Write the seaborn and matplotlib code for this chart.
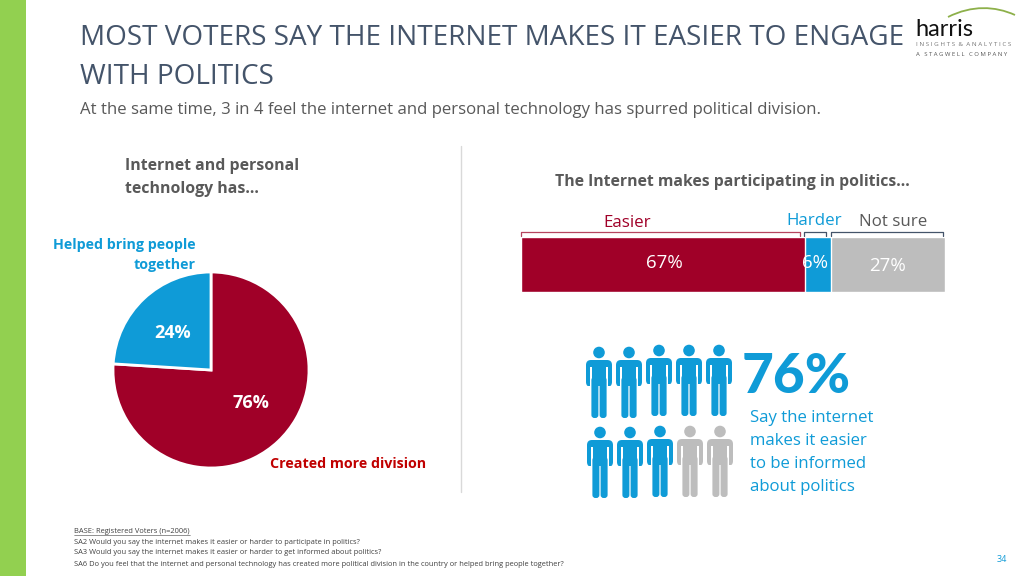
import matplotlib
matplotlib.use('Agg')
import matplotlib.pyplot as plt
from matplotlib.patches import Rectangle, Circle, FancyBboxPatch, PathPatch
from matplotlib.path import Path
import numpy as np
import pandas as pd
import seaborn as sns

# data
pie_labels = ['Created more division', 'Helped bring people together']
pie_values = [76, 24]
bar_labels = ['Easier', 'Harder', 'Not sure']
bar_values = [67, 6, 27]
people_blue = 8
people_total = 10

RED = '#A00028'
BLUE = '#0F9BD7'
GREY = '#BDBDBD'
TEXT = '#595959'
TITLE = '#44546A'
bar_colors = [RED, BLUE, GREY]

sns.set_theme(style='white')
plt.rcParams['font.family'] = ['Open Sans', 'DejaVu Sans']

fig = plt.figure(figsize=(10.24, 5.76), dpi=100)
W, H = 1024, 576


def box(x0, y0, x1, y1):
    # pixel box (y from the top) to figure fraction
    return [x0 / W, 1 - y1 / H, (x1 - x0) / W, (y1 - y0) / H]


# page layer in pixel coords
bg = fig.add_axes([0, 0, 1, 1], zorder=0)
bg.set_xlim(0, W)
bg.set_ylim(H, 0)
bg.axis('off')

bg.add_patch(Rectangle((0, 0), 26, H, color='#92D050', lw=0))
bg.plot([461, 461], [146, 492], color='#D9D9D9', lw=1)

# title
bg.text(80, 38, 'MOST VOTERS SAY THE INTERNET MAKES IT EASIER TO ENGAGE', fontsize=20.05,
        color=TITLE, va='center', ha='left')
bg.text(80, 77, 'WITH POLITICS', fontsize=20.05, color=TITLE, va='center', ha='left')
bg.text(80, 110, 'At the same time, 3 in 4 feel the internet and personal technology has spurred political division.',
        fontsize=12.1, color=TEXT, va='center', ha='left')

# logo
arc = Path([(948, 17), (972, 5), (995, 6), (1015, 15)], [Path.MOVETO, Path.CURVE4, Path.CURVE4, Path.CURVE4])
bg.add_patch(PathPatch(arc, fc='none', ec='#8DB04A', lw=1.3))
bg.text(915, 29, 'harris', fontsize=17, color='#111111', va='center', ha='left', family='Lato')
bg.text(916, 44.5, 'I N S I G H T S  &  A N A L Y T I C S', fontsize=4.5, color='#777777', va='center', ha='left')
bg.text(916, 54, 'A   S T A G W E L L   C O M P A N Y', fontsize=4.3, color='#555555', va='center', ha='left')

# pie panel
bg.text(125, 166, 'Internet and personal', fontsize=11.4, fontweight='bold', color=TEXT, va='center', ha='left')
bg.text(125, 189, 'technology has…', fontsize=11.4, fontweight='bold', color=TEXT, va='center', ha='left')
bg.text(196, 245, 'Helped bring people', fontsize=10.3, fontweight='bold', color=BLUE, va='center', ha='right')
bg.text(196, 265, 'together', fontsize=10.3, fontweight='bold', color=BLUE, va='center', ha='right')
bg.text(270, 464, pie_labels[0], fontsize=10.3, fontweight='bold', color='#C00000', va='center', ha='left')

ax_pie = fig.add_axes(box(111, 270, 311, 470), zorder=1)
ax_pie.pie(pie_values, colors=[RED, BLUE], startangle=90, counterclock=False, radius=0.98,
           wedgeprops={'edgecolor': 'white', 'linewidth': 2})
ax_pie.set_xlim(-1, 1)
ax_pie.set_ylim(-1, 1)
ax_pie.text(0.4, -0.33, f'{pie_values[0]}%', fontsize=13, fontweight='bold', color='white', ha='center', va='center')
ax_pie.text(-0.38, 0.37, f'{pie_values[1]}%', fontsize=13, fontweight='bold', color='white', ha='center', va='center')

# stacked bar panel
bg.text(732, 182, 'The Internet makes participating in politics…', fontsize=11.3, fontweight='bold',
        color=TEXT, va='center', ha='center')

ax_bar = fig.add_axes(box(521, 237, 945, 292), zorder=1)
df = pd.DataFrame({'answer': bar_labels, 'value': bar_values})
df['cum'] = df['value'].cumsum()
# biggest cumulative first so the shorter ones sit on top
for i in range(len(df) - 1, -1, -1):
    sns.barplot(x=[df['cum'][i]], y=[0], orient='h', color=bar_colors[i], saturation=1, width=1, ax=ax_bar)
ax_bar.set_xlim(0, 100)
ax_bar.set_ylim(0.5, -0.5)
ax_bar.axis('off')
ax_bar.text(33.9, -0.02, '67%', fontsize=13.5, color='white', ha='center', va='center')
ax_bar.text(69.4, -0.03, '6%', fontsize=13.5, color='white', ha='center', va='center')
ax_bar.text(86.5, 0.03, '27%', fontsize=13.5, color='white', ha='center', va='center')

bg.text(627, 223, bar_labels[0], fontsize=12.2, color=RED, va='center', ha='center')
bg.text(814, 221, bar_labels[1], fontsize=12.2, color=BLUE, va='center', ha='center')
bg.text(893, 222, bar_labels[2], fontsize=12.2, color=TEXT, va='center', ha='center')


def bracket(x0, x1, color):
    bg.plot([x0, x0, x1, x1], [236, 232, 232, 236], color=color, lw=0.9)


bracket(521, 800, '#B5455F')
bracket(804, 826, '#44546A')
bracket(831, 943, '#44546A')


# pictogram
def person(cx, top, color):
    bg.add_patch(Circle((cx, top + 5.5), 5.8, color=color, lw=0))
    bg.add_patch(FancyBboxPatch((cx - 13, top + 13), 26, 27, boxstyle='round,pad=0,rounding_size=5', color=color, lw=0))
    bg.add_patch(Rectangle((cx - 8.8, top + 20), 1.4, 22, color='white', lw=0))
    bg.add_patch(Rectangle((cx + 7.4, top + 20), 1.4, 22, color='white', lw=0))
    bg.add_patch(Rectangle((cx - 13, top + 39), 26, 6, color='white', lw=0))
    bg.add_patch(FancyBboxPatch((cx - 7.6, top + 30), 7, 41, boxstyle='round,pad=0,rounding_size=3', color=color, lw=0))
    bg.add_patch(FancyBboxPatch((cx + 0.6, top + 30), 7, 41, boxstyle='round,pad=0,rounding_size=3', color=color, lw=0))


row1 = [(599, 347), (629, 347), (659, 345), (689, 345), (719, 345)]
row2 = [(600, 427), (630, 427), (660, 426), (690, 426), (720, 426)]
for n, (cx, top) in enumerate(row1 + row2):
    person(cx, top, BLUE if n < people_blue else GREY)

bg.text(796, 377, '76%', fontsize=39.5, fontweight=900, color=BLUE, va='center', ha='center', family='Lato')
for y, line in zip([418, 441, 464, 487], ['Say the internet', 'makes it easier', 'to be informed', 'about politics']):
    bg.text(750, y, line, fontsize=12.1, color=BLUE, va='center', ha='left')

# footnotes
foot = ['BASE: Registered Voters (n=2006)',
        'SA2 Would you say the internet makes it easier or harder to participate in politics?',
        'SA3 Would you say the internet makes it easier or harder to get informed about politics?',
        'SA6 Do you feel that the internet and personal technology has created more political division in the country or helped bring people together?']
for y, line in zip([531.5, 542, 553, 564], foot):
    bg.text(74, y, line, fontsize=5.4, color='#404040', va='center', ha='left')
bg.plot([74, 190], [534.5, 534.5], color='#404040', lw=0.4)
bg.text(1002, 560, '34', fontsize=6.5, color=BLUE, va='center', ha='center')

fig.savefig('out.png', dpi=100)
